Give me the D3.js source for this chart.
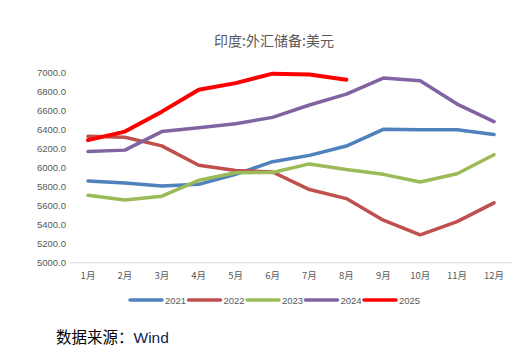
<!DOCTYPE html>
<html>
<head>
<meta charset="utf-8">
<script src="https://cdn.jsdelivr.net/npm/d3@7"></script>
<style>
  body { margin: 0; background: #fff; }
  svg { display: block; font-family: "Noto Sans CJK SC", "Liberation Sans", sans-serif; }
</style>
</head>
<body>
<div id="chart"></div>
<script>
var months = ["1月", "2月", "3月", "4月", "5月", "6月", "7月", "8月", "9月", "10月", "11月", "12月"];
var yTicks = [5000, 5200, 5400, 5600, 5800, 6000, 6200, 6400, 6600, 6800, 7000];
var years = ["2021", "2022", "2023", "2024", "2025"];
var colors = ["#4f81bd", "#c0504d", "#9bbb59", "#8064a2", "#ff0000"];

var y2021 = [5860, 5840, 5807, 5825, 5930, 6063, 6130, 6228, 6404, 6400, 6400, 6350];
var y2022 = [6330, 6320, 6230, 6026, 5970, 5955, 5770, 5675, 5448, 5293, 5433, 5630];
var y2023 = [5710, 5660, 5700, 5867, 5947, 5950, 6040, 5980, 5930, 5850, 5937, 6137];
var y2024 = [6170, 6185, 6380, 6420, 6463, 6530, 6660, 6775, 6943, 6915, 6670, 6485];
var y2025 = [6290, 6380, 6590, 6820, 6890, 6990, 6982, 6925];
var series = [y2021, y2022, y2023, y2024, y2025];

var width = 530, height = 364;
var svg = d3.select("#chart").append("svg").attr("width", width).attr("height", height);

var x = d3.scalePoint().domain(months).range([88, 494]);
var y = d3.scaleLinear().domain([5000, 7000]).range([262.7, 72.7]);

// title
svg.append("text").attr("x", 274).attr("y", 46).attr("text-anchor", "middle")
  .attr("font-size", 14).attr("fill", "#595959").text("印度:外汇储备:美元");

// y labels
svg.selectAll(".ytick").data(yTicks).enter().append("text")
  .attr("x", 66).attr("y", function(d) { return y(d) + 3.5; })
  .attr("text-anchor", "end").attr("font-size", 9.5).attr("fill", "#595959")
  .attr("font-family", "Liberation Sans, sans-serif")
  .text(function(d) { return d.toFixed(1); });

// x axis line
svg.append("line").attr("x1", 70).attr("x2", 512).attr("y1", y(5000)).attr("y2", y(5000))
  .attr("stroke", "#d9d9d9").attr("stroke-width", 1);

svg.selectAll(".xtick").data(months).enter().append("text")
  .attr("x", function(d) { return x(d); }).attr("y", 279)
  .attr("text-anchor", "middle").attr("font-size", 9.5).attr("fill", "#595959")
  .text(function(d) { return d; });

var line = d3.line().x(function(d, i) { return x(months[i]); }).y(function(d) { return y(d); });

series.forEach(function(s, k) {
  svg.append("path").datum(s).attr("d", line)
    .attr("fill", "none").attr("stroke", colors[k])
    .attr("stroke-width", k == 4 ? 4 : 3.5)
    .attr("stroke-linejoin", "round").attr("stroke-linecap", "round");
});

// legend
var lg = svg.append("g").attr("transform", "translate(130,300)");
years.forEach(function(yr, k) {
  var g = lg.append("g").attr("transform", "translate(" + (k * 58.5) + ",0)");
  g.append("line").attr("x1", 0).attr("x2", 32).attr("y1", 0).attr("y2", 0)
    .attr("stroke", colors[k]).attr("stroke-width", 3.5).attr("stroke-linecap", "round");
  g.append("text").attr("x", 35).attr("y", 3.5).attr("font-size", 9.5).attr("fill", "#595959")
    .attr("font-family", "Liberation Sans, sans-serif").text(yr);
});

// source
var src = svg.append("text").attr("x", 56).attr("y", 343).attr("font-size", 15.5);
src.append("tspan").attr("fill", "#000").text("数据来源：");
src.append("tspan").attr("fill", "#0f2350").attr("font-family", "Liberation Sans, sans-serif").text("Wind");
</script>
</body>
</html>
